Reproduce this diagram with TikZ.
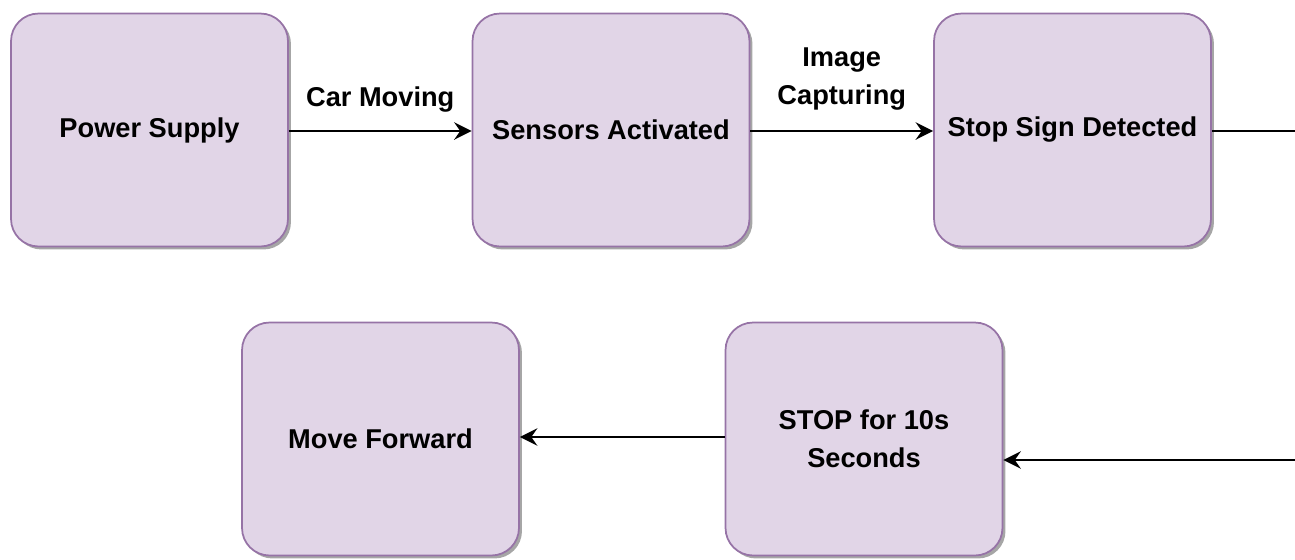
\documentclass[tikz,border=0pt]{standalone}
\usepackage{fontspec}
\setmainfont{Liberation Sans}
\usetikzlibrary{arrows.meta,shadows}
\definecolor{boxfill}{HTML}{E1D5E7}
\definecolor{boxline}{HTML}{9673A6}
\begin{document}
\begin{tikzpicture}[x=0.02cm,y=-0.02cm,
  stepbox/.style={draw=boxline,fill=boxfill,line width=1pt,rounded corners=0.55cm,
    minimum width=5.54cm,minimum height=4.66cm,align=center,
    font=\fontsize{15.5}{21.5}\selectfont\bfseries,
    drop shadow={shadow xshift=0.06cm,shadow yshift=-0.06cm,fill=gray!70,opacity=1}},
  flow/.style={-{Stealth[length=10pt,width=10pt,inset=3.5pt]},line width=1.1pt},
  lbl/.style={font=\fontsize{15.5}{21.5}\selectfont\bfseries,align=center}]
\useasboundingbox (0,0) rectangle (1295,559);
\node[stepbox] (power) at (149.5,130) {Power Supply};
\node[stepbox] (sensors) at (611,130) {Sensors Activated};
\node[stepbox] (stopsign) at (1072.5,130) {Stop Sign Detected};
\node[stepbox] (forward) at (380.5,439) {Move Forward};
\node[stepbox] (stopwait) at (864,439) {STOP for 10s\\Seconds};
\coordinate (e1) at (1295,131);
\coordinate (e2) at (1295,460);
\draw[flow] (power.east |- 0,131) -- node[lbl,above=7pt]{Car Moving} (sensors.west |- 0,131);
\draw[flow] (sensors.east |- 0,131) -- node[lbl,above=8pt]{Image\\Capturing} (stopsign.west |- 0,131);
\draw[line width=1.1pt] (stopsign.east |- 0,131) -- (e1);
\draw[flow] (e2) -- (stopwait.east |- 0,460);
\draw[flow] (stopwait.west |- 0,437) -- (forward.east |- 0,437);
\end{tikzpicture}
\end{document}
